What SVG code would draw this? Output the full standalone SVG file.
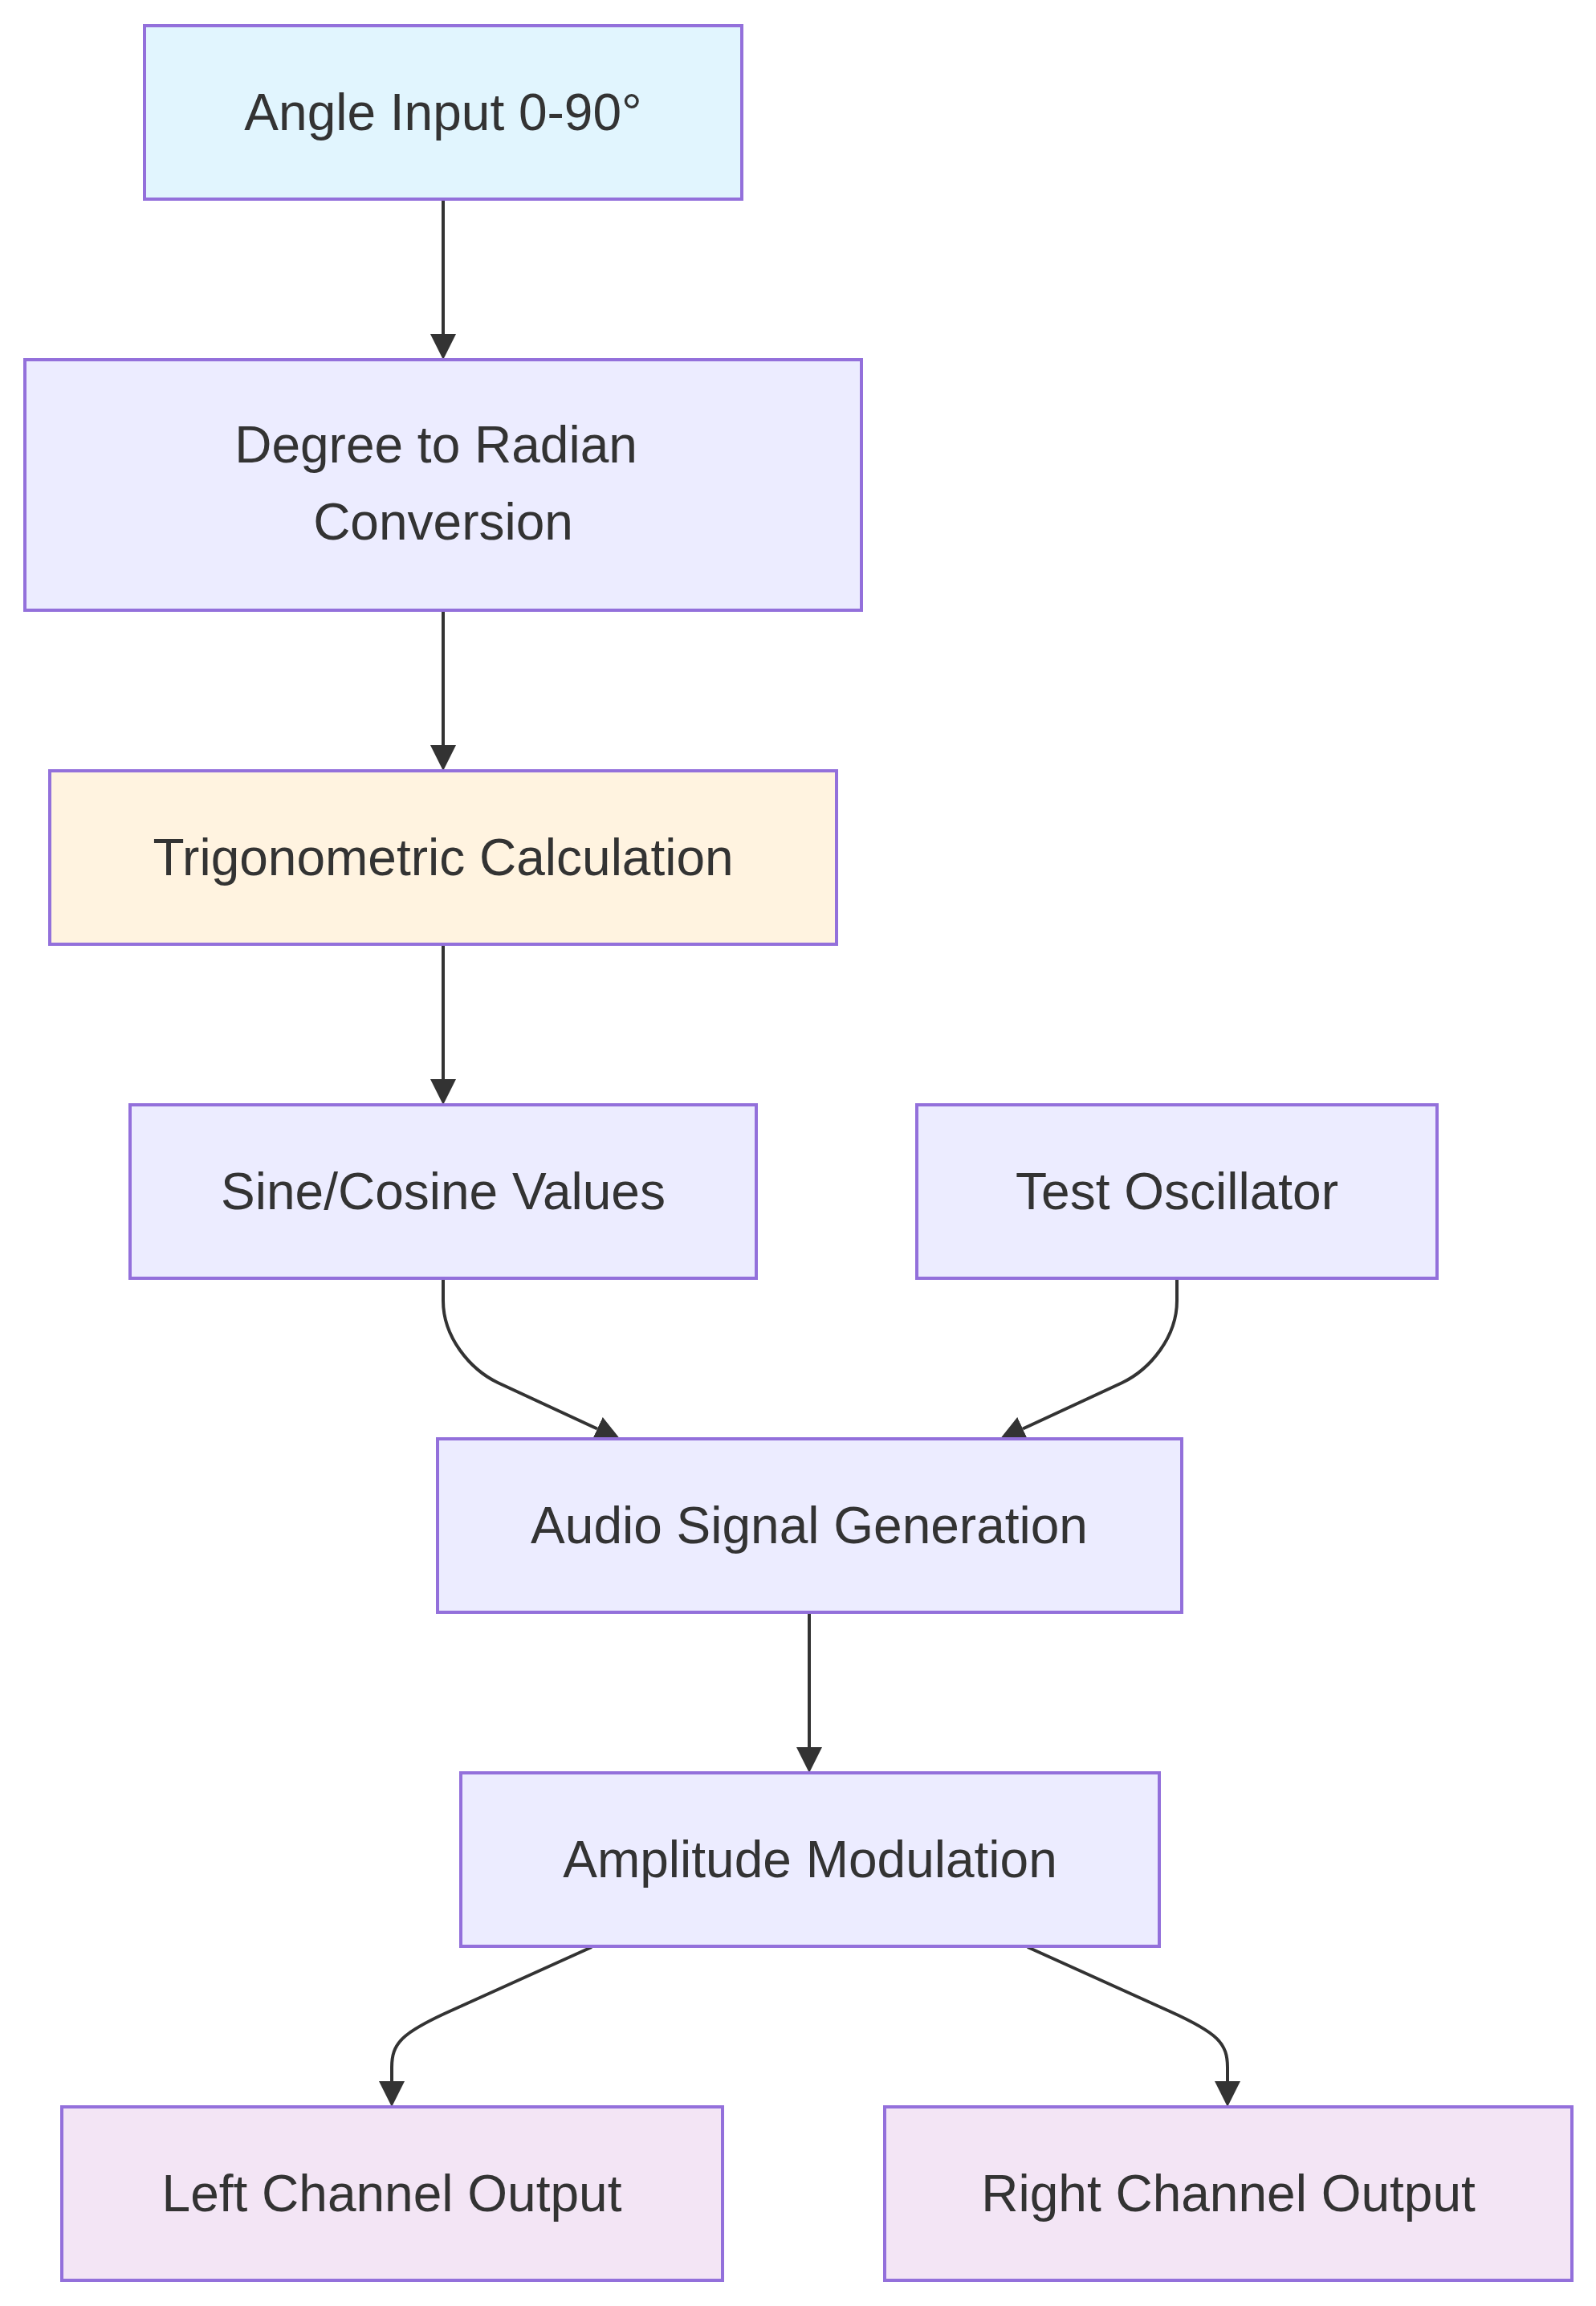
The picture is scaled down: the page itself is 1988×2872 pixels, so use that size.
<svg xmlns="http://www.w3.org/2000/svg" width="1988" height="2872" viewBox="0 0 1988 2872">
<style>
.node rect{stroke:#9370DB;stroke-width:4;}
.default rect{fill:#ECECFF;}
.input rect{fill:#e1f5fe;}
.calc rect{fill:#fff3e0;}
.output rect{fill:#f3e5f5;}
.node text{font-family:"Liberation Sans",Arial,sans-serif;font-size:64px;fill:#333333;text-anchor:middle;}
.edge{fill:none;stroke:#333333;stroke-width:4;marker-end:url(#arrow);}
</style>
<defs>
<marker id="arrow" viewBox="0 0 10 10" refX="0" refY="5" markerUnits="userSpaceOnUse" markerWidth="32" markerHeight="32" orient="auto">
<path d="M0,0 L10,5 L0,10 z" fill="#333333"/>
</marker>
</defs>
<rect width="1988" height="2872" fill="#ffffff"/>
<g id="connectors">
<path class="edge" d="M552,250 L552,416"/>
<path class="edge" d="M552,762 L552,928"/>
<path class="edge" d="M552,1178 L552,1344"/>
<path class="edge" d="M552,1594 L552,1620 C552,1665 585,1705 620,1722 L744,1779.5"/>
<path class="edge" d="M1466,1594 L1466,1620 C1466,1665 1433,1705 1398,1722 L1274,1779.5"/>
<path class="edge" d="M1008,2010 L1008,2176"/>
<path class="edge" d="M737,2425 L560,2505 C500,2532 488,2545 488,2575 L488,2592"/>
<path class="edge" d="M1280,2425 L1457,2505 C1517,2532 1529,2545 1529,2575 L1529,2592"/>
</g>
<g id="node-angle" class="node input">
<rect x="180" y="32" width="744" height="216"/>
<text x="552" y="162">Angle Input 0-90°</text>
</g>
<g id="node-degree" class="node default">
<rect x="31" y="448" width="1042" height="312"/>
<text x="543" y="576">Degree to Radian</text>
<text x="552" y="672">Conversion</text>
</g>
<g id="node-trig" class="node calc">
<rect x="62" y="960" width="980" height="216"/>
<text x="552" y="1090">Trigonometric Calculation</text>
</g>
<g id="node-sine" class="node default">
<rect x="162" y="1376" width="780" height="216"/>
<text x="552" y="1506">Sine/Cosine Values</text>
</g>
<g id="node-test" class="node default">
<rect x="1142" y="1376" width="648" height="216"/>
<text x="1466" y="1506">Test Oscillator</text>
</g>
<g id="node-audio" class="node default">
<rect x="545" y="1792" width="927" height="216"/>
<text x="1008" y="1922">Audio Signal Generation</text>
</g>
<g id="node-amp" class="node default">
<rect x="574" y="2208" width="870" height="216"/>
<text x="1009" y="2338">Amplitude Modulation</text>
</g>
<g id="node-left" class="node output">
<rect x="77" y="2624" width="823" height="216"/>
<text x="488" y="2754">Left Channel Output</text>
</g>
<g id="node-right" class="node output">
<rect x="1102" y="2624" width="856" height="216"/>
<text x="1530" y="2754">Right Channel Output</text>
</g>
</svg>
